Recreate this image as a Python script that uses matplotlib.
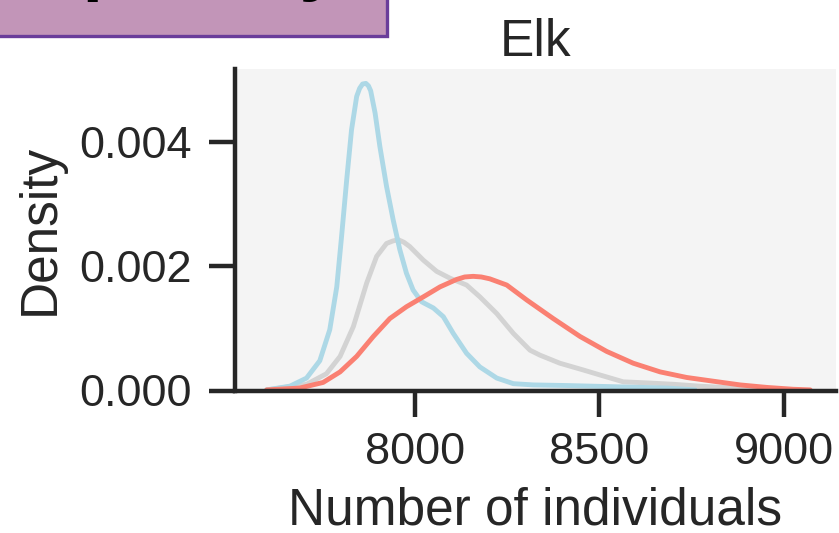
import matplotlib
matplotlib.use("Agg")
import matplotlib.pyplot as plt
from matplotlib.patches import Rectangle

# ---- data (x = number of individuals, y = density) ----
blue_x = [7598, 7661, 7706, 7742, 7769, 7788, 7801, 7815, 7828, 7842, 7850, 7858,
          7867, 7874, 7880, 7892, 7905, 7923, 7941, 7959, 7977, 7995, 8018, 8050,
          8077, 8104, 8140, 8176, 8222, 8267, 8321, 8412, 8547, 8683, 8760]
blue_y = [0.00001, 0.00007, 0.00020, 0.00048, 0.00098, 0.00167, 0.00248, 0.00340,
          0.00420, 0.00474, 0.00487, 0.00494, 0.00495, 0.00491, 0.00483, 0.00447,
          0.00393, 0.00329, 0.00275, 0.00227, 0.00189, 0.00162, 0.00143, 0.00133,
          0.00119, 0.00092, 0.00060, 0.00038, 0.00020, 0.00011, 0.00009, 0.00008,
          0.00006, 0.00004, 0.00001]

gray_x = [7598, 7706, 7760, 7797, 7833, 7869, 7896, 7923, 7940, 7955, 7970, 7986,
          8023, 8059, 8095, 8140, 8176, 8222, 8267, 8312, 8339, 8393, 8457, 8502,
          8565, 8638, 8701, 8773, 8864, 8954, 9045]
gray_y = [0.00001, 0.00010, 0.00027, 0.00055, 0.00103, 0.00173, 0.00216, 0.00237,
          0.00241, 0.00243, 0.00239, 0.00232, 0.00210, 0.00192, 0.00181, 0.00170,
          0.00151, 0.00124, 0.00092, 0.00065, 0.00057, 0.00044, 0.00033, 0.00025,
          0.00014, 0.00012, 0.00010, 0.00007, 0.00004, 0.00002, 0.00001]

red_x = [7598, 7688, 7751, 7797, 7842, 7887, 7932, 7977, 8023, 8068, 8113, 8135,
         8158, 8180, 8203, 8249, 8303, 8375, 8448, 8520, 8592, 8665, 8737, 8809,
         8882, 8954, 9026, 9072]
red_y = [0.00001, 0.00004, 0.00013, 0.00030, 0.00055, 0.00087, 0.00116, 0.00135,
         0.00151, 0.00167, 0.00179, 0.00183, 0.00184, 0.00183, 0.00180, 0.00170,
         0.00146, 0.00116, 0.00087, 0.00063, 0.00044, 0.00030, 0.00021, 0.00015,
         0.00009, 0.00005, 0.00002, 0.00001]

x_ticks = [8000, 8500, 9000]
y_ticks = [0.000, 0.002, 0.004]
title = "Elk"
x_label = "Number of individuals"
y_label = "Density"
panel_text = "Trophic dynamics"

# ---- style ----
plt.rcParams["font.family"] = ["Liberation Sans", "DejaVu Sans"]
txt = "#262626"

fig = plt.figure(figsize=(8.39, 5.33), dpi=100)
W, H = 839, 533
ax = fig.add_axes([235 / W, (H - 390.5) / H, (836 - 235) / W, (390.5 - 68.5) / H])
ax.set_facecolor("#F4F4F4")

line_kw = dict(lw=3.5, solid_capstyle="round", solid_joinstyle="round")
ax.plot(gray_x, gray_y, color="#D3D3D3", **line_kw)
ax.plot(blue_x, blue_y, color="#ADD8E6", **line_kw)
ax.plot(red_x, red_y, color="#FA8072", **line_kw)

ax.set_xlim(7512, 9142)
ax.set_ylim(0, 0.00519)
ax.set_xticks(x_ticks)
ax.set_yticks(y_ticks)
ax.set_yticklabels([f"{v:.3f}" for v in y_ticks])

for side in ["top", "right"]:
    ax.spines[side].set_visible(False)
for side in ["left", "bottom"]:
    ax.spines[side].set_linewidth(3.2)
    ax.spines[side].set_color(txt)

ax.tick_params(axis="both", which="major", length=18.7, width=3.2, color=txt,
               labelcolor=txt, labelsize=32.5)
ax.tick_params(axis="x", pad=11.5)
ax.tick_params(axis="y", pad=12.2)

ax.set_xlabel(x_label, fontsize=37, color=txt, labelpad=9.5)
ax.set_ylabel(y_label, fontsize=37, color=txt, labelpad=10.3)
ax.set_title(title, fontsize=37, color=txt, pad=9)

# ---- purple panel box at top-left (cut off by the figure edge) ----
fig.patches.append(Rectangle((-20 / W, (H - 35.5) / H), (406.5) / W, 0.2,
                             transform=fig.transFigure, facecolor="#C295B8",
                             edgecolor="#6A3D9A", linewidth=2.4, zorder=0))
fig.text(-32 / W, (H + 12.5) / H, panel_text, fontsize=53, fontweight="bold",
         color="black", ha="left", va="baseline")

fig.savefig("out.png", dpi=100)
